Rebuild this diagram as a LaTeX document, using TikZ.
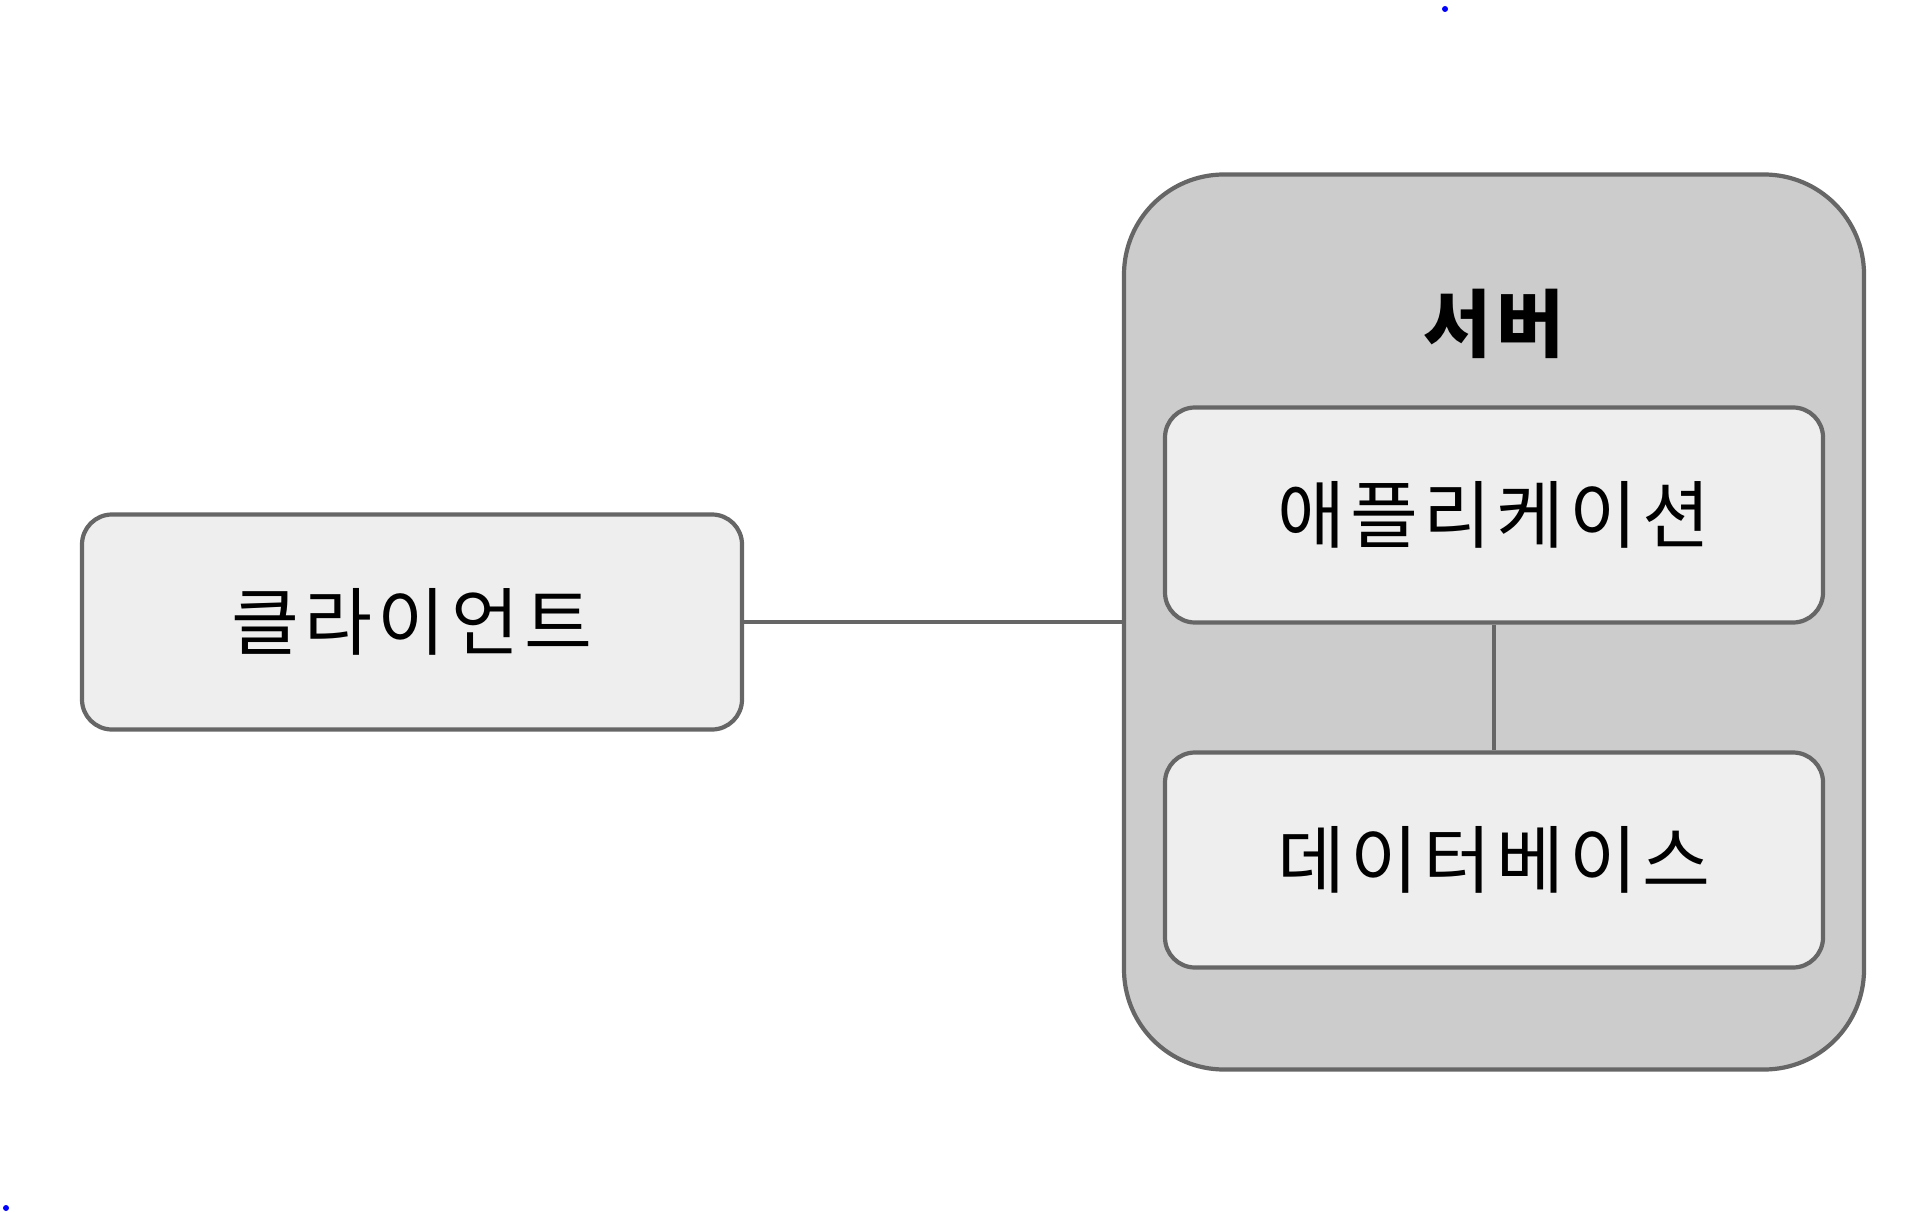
\documentclass[tikz,border=0pt]{standalone}
\usepackage{fontspec}
\newfontfamily\krfont[LetterSpace=7]{Noto Sans CJK KR}
\definecolor{edgegray}{HTML}{666666}
\definecolor{boxfill}{HTML}{EEEEEE}
\definecolor{groupfill}{HTML}{CCCCCC}
\tikzset{
  box/.style={draw=edgegray, line width=2.4pt, fill=boxfill, rounded corners=0.6cm,
    minimum width=13.2cm, minimum height=4.3cm, inner sep=0pt,
    font=\krfont\fontsize{42}{50}\selectfont},
  group/.style={draw=edgegray, line width=2.4pt, fill=groupfill, rounded corners=2cm,
    minimum width=14.8cm, minimum height=17.9cm, inner sep=0pt},
  link/.style={draw=edgegray, line width=2.4pt}
}
\begin{document}
\begin{tikzpicture}
	\useasboundingbox (0,0) rectangle (38.4,-24.26);
	% 1. 서버 그룹과 제목
	\node[group] (server) at (29.88,-12.44) {};
	\node[font=\krfont\bfseries\fontsize{42}{50}\selectfont] (title) at (29.88,-6.48) {서버};
	
	% 2. 각 상자
	\node[box] (client) at (8.24,-12.44) {클라이언트};
	\node[box, minimum width=13.16cm] (app) at (29.88,-10.3) {애플리케이션};
	\node[box, minimum width=13.16cm] (db) at (29.88,-17.2) {데이터베이스};
	
	% 3. 연결선
	\draw[link] (client.east) -- (server.west);
	\draw[link] (app.south) -- (db.north);
	
	% 4. 가장자리의 작은 점
	\fill[blue] (28.9,-0.18) circle (0.06);
	\fill[blue] (0.12,-24.16) circle (0.06);
\end{tikzpicture}
\end{document}
